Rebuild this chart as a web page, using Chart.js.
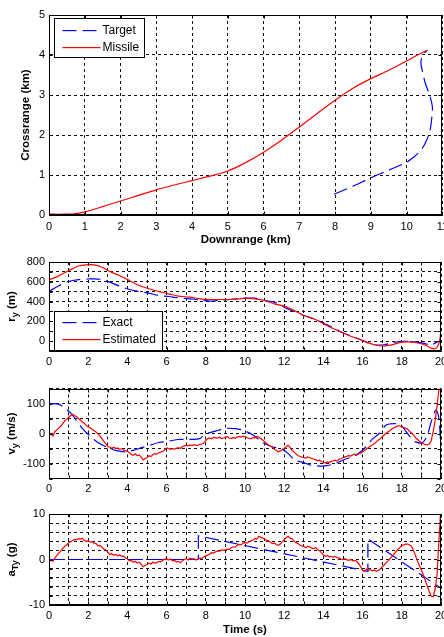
<!DOCTYPE html>
<html>
<head>
<meta charset="utf-8">
<title>Missile / target engagement</title>
<script src="https://cdn.jsdelivr.net/npm/chart.js@4.4.1/dist/chart.umd.min.js"></script>
<style>
  html, body { margin: 0; padding: 0; background: #fff; }
  #wrap { position: relative; width: 444px; height: 637px; overflow: hidden; }
  #wrap canvas { position: absolute; left: 0; }
</style>
</head>
<body>
<div id="wrap">
  <canvas id="trajChart" width="444" height="250" style="top:0px"></canvas>
  <canvas id="ryChart" width="444" height="120" style="top:250px"></canvas>
  <canvas id="vyChart" width="444" height="130" style="top:370px"></canvas>
  <canvas id="aChart" width="444" height="137" style="top:500px"></canvas>
</div>
<script>
// ---- trajectory (km) ----
var missileDown  = [0, 0.4, 0.7, 1.0, 1.5, 2.0, 2.5, 3.0, 3.5, 4.0, 4.5, 5.0, 5.5, 6.0, 6.5, 7.0, 7.5, 8.0, 8.5, 9.0, 9.5, 10.0, 10.3, 10.58];
var missileCross = [0.02, 0.02, 0.03, 0.08, 0.21, 0.35, 0.49, 0.63, 0.75, 0.86, 0.97, 1.1, 1.31, 1.57, 1.87, 2.2, 2.54, 2.87, 3.17, 3.41, 3.62, 3.85, 4.0, 4.12];
var targetDown   = [7.97, 8.5, 9.0, 9.5, 10.0, 10.2, 10.4, 10.55, 10.65, 10.7, 10.72, 10.64, 10.52, 10.44, 10.4, 10.44, 10.58];
var targetCross  = [0.52, 0.72, 0.93, 1.12, 1.32, 1.45, 1.62, 1.85, 2.1, 2.4, 2.7, 3.0, 3.3, 3.6, 3.8, 3.98, 4.12];
var downTicks  = [0, 1, 2, 3, 4, 5, 6, 7, 8, 9, 10, 11];
var crossTicks = [0, 1, 2, 3, 4, 5];

// ---- r_y (m) ----
var ryExactT = [0, 0.5, 1, 1.5, 2, 2.3, 2.7, 3.1, 3.6, 4.1, 4.6, 5.1, 5.6, 6.1, 6.6, 7.2, 7.7, 8.2, 8.7, 9.2, 10, 10.5, 11, 11.5, 12, 12.5, 13, 13.6, 14.1, 14.6, 15.1, 15.6, 16.1, 16.6, 17.1, 17.5, 18, 18.5, 19, 19.5, 19.8, 20];
var ryExact  = [502, 560, 603, 622, 628, 630, 623, 596, 556, 522, 502, 485, 461, 451, 438, 428, 418, 405, 414, 421, 434, 434, 411, 394, 343, 300, 259, 219, 172, 125, 74, 40, -3, -37, -37, -17, -3, -3, -17, -37, -10, 7];
var ryEstT = [0, 0.5, 1, 1.5, 1.9, 2.3, 2.7, 3.1, 3.6, 4.1, 4.6, 5.1, 5.6, 6.1, 6.6, 7.2, 7.7, 8.2, 8.7, 9.2, 9.7, 10, 10.5, 11, 11.5, 12, 12.5, 13, 13.6, 14.1, 14.6, 15.1, 15.6, 16.1, 16.6, 17.1, 17.5, 18, 18.5, 19, 19.3, 19.5, 19.7, 19.85, 19.95, 20];
var ryEst  = [620, 660, 712, 760, 771, 771, 747, 704, 663, 613, 562, 529, 502, 478, 455, 444, 428, 421, 421, 421, 428, 434, 428, 411, 377, 354, 310, 259, 219, 165, 118, 74, 34, -3, -37, -50, -37, -10, -10, -27, -50, -71, -77, -44, 24, 141];
var ryTicks = [0, 200, 400, 600, 800];

// ---- v_y (m/s) ----
var vyExactT = [0, 0.48, 0.85, 1.2, 1.7, 2.05, 2.5, 2.9, 3.38, 3.9, 4.3, 4.7, 5.16, 5.6, 6.1, 6.6, 7.1, 7.7, 7.95, 8.5, 9.0, 9.5, 9.9, 10.43, 10.85, 11.37, 11.9, 12.2, 12.56, 13.0, 13.4, 14.1, 14.6, 15.1, 15.6, 16.0, 16.5, 16.84, 17.2, 17.6, 17.95, 18.2, 18.46, 18.7, 19.06, 19.3, 19.5, 19.74, 19.88, 19.96, 20];
var vyExact  = [100, 98, 83, 61, 17, -6, -30, -44, -56, -61, -56, -48, -39, -30, -26, -20, -20, -17, -3, 8, 17, 16, 11, -6, -28, -44, -52, -67, -89, -97, -106, -108, -100, -86, -74, -56, -19, 0, 28, 33, 28, 8, -14, -28, -30, -6, 39, 78, 56, -6, -67];
// estimate sampled every 0.1 s, one row per second
var vyEst = [
  3, -2, -8, 6, 12, 18, 24, 33, 42, 47,
  54, 59, 64, 60, 57, 50, 45, 38, 34, 27,
  22, 19, 14, 9, 5, -1, -9, -17, -26, -35,
  -44, -45, -49, -46, -50, -48, -53, -51, -55, -57,
  -60, -63, -70, -73, -68, -74, -72, -78, -88, -84,
  -80, -74, -77, -70, -67, -69, -64, -62, -60, -55,
  -48, -50, -53, -51, -52, -49, -47, -50, -44, -42,
  -39, -41, -38, -40, -37, -40, -39, -36, -35, -32,
  -24, -17, -15, -18, -13, -14, -16, -12, -17, -15,
  -14, -11, -15, -17, -13, -16, -12, -10, -12, -9,
  -11, -14, -16, -18, -13, -15, -10, -12, -17, -22,
  -27, -33, -38, -42, -46, -53, -57, -61, -58, -54,
  -50, -44, -39, -46, -56, -62, -68, -74, -76, -79,
  -80, -82, -78, -81, -83, -85, -88, -91, -89, -94,
  -96, -98, -95, -97, -93, -91, -89, -92, -86, -84,
  -81, -78, -76, -74, -75, -71, -69, -72, -67, -66,
  -62, -57, -51, -47, -42, -38, -33, -28, -22, -18,
  -11, -5, 1, 6, 10, 16, 19, 22, 26, 25,
  22, 20, 18, 14, 7, 1, -6, -14, -20, -26,
  -31, -34, -37, -38, -35, -24, 6, 42, 92, 150,
  210
];
var vyTicks = [-100, 0, 100];

// ---- a_Ty (g) ----
var aExactT = [0, 7.62, 7.62, 16.27, 16.27, 20];
var aExact  = [0, 0, 5.2, -2.6, 4.5, -6.3];
var aEst = [
  0, -0.2, -0.4, 0.3, 0.9, 1.4, 1.9, 2.4, 2.9, 3.2,
  3.7, 3.9, 4.1, 4.4, 4.3, 4.6, 4.5, 4.7, 4.2, 4.0,
  4.1, 3.8, 3.9, 3.6, 3.5, 3.0, 3.1, 2.7, 2.3, 2.1,
  1.6, 1.1, 1.3, 0.9, 1.1, 0.8, 1.0, 0.7, 0.8, 0.4,
  0.1, -0.3, -0.2, -0.6, -0.4, -0.8, -0.6, -1.0, -1.6, -1.3,
  -1.1, -0.8, -1.0, -0.6, -0.8, -0.7, -0.4, -0.5, -0.2, 0.1,
  0.2, -0.1, 0.1, -0.3, -0.2, -0.5, -0.4, -0.7, -0.3, 0.0,
  0.2, -0.1, 0.3, 0.1, 0.2, -0.1, 0.1, 0.3, 0.2, 0.6,
  0.8, 1.0, 1.2, 1.5, 1.4, 1.7, 1.9, 1.8, 2.1, 2.0,
  2.1, 2.3, 2.2, 2.6, 2.8, 2.7, 3.1, 3.3, 3.2, 3.6,
  3.7, 3.6, 3.9, 4.1, 4.3, 4.6, 4.5, 5.1, 4.9, 4.7,
  4.5, 4.2, 4.1, 3.8, 3.5, 3.6, 3.3, 3.1, 3.4, 3.9,
  4.3, 4.8, 5.1, 4.7, 4.6, 4.0, 3.7, 3.5, 3.2, 3.0,
  2.9, 2.6, 2.9, 2.8, 2.5, 2.4, 2.6, 2.2, 1.9, 1.5,
  1.0, 0.7, 0.9, 0.6, 0.7, 0.5, 0.7, 0.4, 0.3, 0.1,
  0.0, 0.2, -0.1, -0.2, 0.0, -0.3, -0.2, -0.4, -0.9, -1.6,
  -2.3, -2.6, -2.1, -2.4, -2.2, -2.5, -2.3, -2.6, -2.4, -2.1,
  -1.6, -1.2, -0.7, -0.3, 0.2, 0.7, 1.2, 1.7, 2.2, 2.6,
  3.1, 3.2, 3.4, 3.4, 3.2, 2.9, 2.0, 0.8, -0.3, -1.4,
  -2.3, -3.4, -4.6, -5.8, -7.1, -8.1, -8.2, -6.6, -3.2, 4.5,
  12
];
var aTicks = [-10, 0, 10];

var timeTicks = [0, 2, 4, 6, 8, 10, 12, 14, 16, 18, 20];
var sampleStep = 0.1;

(function() {
    'use strict';

    var RED = '#ff0000';
    var BLUE = '#0000ff';
    var FONT = "'Liberation Sans', Arial, Helvetica, sans-serif";
    var gridDash = [3, 3];

    Chart.defaults.font.family = FONT;
    Chart.defaults.font.size = 11;
    Chart.defaults.color = '#000';

    function toPoints(xs, ys) {
        return xs.map(function(x, i) { return { x: x, y: ys[i] }; });
    }

    function sampled(values) {
        return values.map(function(v, i) { return { x: Math.round(i * sampleStep * 100) / 100, y: v }; });
    }

    function lineSet(label, points, color, dashed, order, tension) {
        return {
            label: label,
            data: points,
            showLine: true,
            borderColor: color,
            backgroundColor: color,
            borderWidth: 1.2,
            borderDash: dashed ? [14, 6] : [],
            pointRadius: 0,
            pointHoverRadius: 0,
            tension: tension,
            order: order,
            fill: false
        };
    }

    function makeAxis(cfg) {
        return {
            type: 'linear',
            position: cfg.position,
            min: cfg.min,
            max: cfg.max,
            ticks: {
                stepSize: cfg.step,
                autoSkip: false,
                maxRotation: 0,
                minRotation: 0,
                padding: cfg.pad,
                font: { size: 11 },
                color: '#000',
                callback: function(v) { return cfg.labels.indexOf(v) >= 0 ? String(v) : ''; }
            },
            grid: { color: '#111', lineWidth: 1, drawTicks: false },
            border: { display: true, color: '#000', width: 1, dash: gridDash },
            title: cfg.title ? {
                display: true,
                text: cfg.title,
                color: '#000',
                font: { size: 11.5, weight: 'bold' },
                padding: cfg.titlePad
            } : { display: false },
            afterFit: function(scale) {
                if (cfg.position === 'bottom') scale.height = cfg.size;
                else scale.width = cfg.size;
                scale.paddingLeft = 0;
                scale.paddingRight = 0;
                scale.paddingTop = 0;
                scale.paddingBottom = 0;
            }
        };
    }

    // closed axes box with small inward tick marks, like the original plot
    var axesBox = {
        id: 'axesBox',
        afterDatasetsDraw: function(chart) {
            var ctx = chart.ctx;
            var a = chart.chartArea;
            var xs = chart.scales.x, ys = chart.scales.y;
            var l = Math.round(a.left) + 0.5, r = Math.round(a.right) - 0.5;
            var t = Math.round(a.top) + 0.5, b = Math.round(a.bottom) - 0.5;
            ctx.save();
            ctx.strokeStyle = '#000';
            ctx.lineWidth = 1;
            ctx.setLineDash([]);
            ctx.strokeRect(l, t, r - l, b - t);
            ctx.beginPath();
            xs.ticks.forEach(function(tk) {
                var px = Math.round(xs.getPixelForValue(tk.value)) + 0.5;
                ctx.moveTo(px, b); ctx.lineTo(px, b - 3);
                ctx.moveTo(px, t); ctx.lineTo(px, t + 3);
            });
            ys.ticks.forEach(function(tk) {
                var py = Math.round(ys.getPixelForValue(tk.value)) + 0.5;
                ctx.moveTo(l, py); ctx.lineTo(l + 3, py);
                ctx.moveTo(r, py); ctx.lineTo(r - 3, py);
            });
            ctx.stroke();
            ctx.restore();
        }
    };

    // legend box drawn inside the plot area
    var boxLegend = {
        id: 'boxLegend',
        afterDraw: function(chart, args, opts) {
            if (!opts || !opts.width) return;
            var ctx = chart.ctx;
            var a = chart.chartArea;
            var left = Math.round(a.left + opts.left) + 0.5;
            var top = opts.fromBottom ? Math.round(a.bottom - opts.fromBottom - opts.height) + 0.5 : Math.round(a.top + opts.top) + 0.5;
            ctx.save();
            ctx.fillStyle = '#fff';
            ctx.fillRect(left, top, opts.width, opts.height);
            ctx.strokeStyle = '#000';
            ctx.lineWidth = 1;
            ctx.setLineDash([]);
            ctx.strokeRect(left, top, opts.width, opts.height);
            ctx.font = '12px ' + FONT;
            ctx.textBaseline = 'middle';
            ctx.textAlign = 'left';
            chart.data.datasets.forEach(function(ds, i) {
                var y = Math.round(top + opts.rowTop + i * opts.rowGap);
                var dash = ds.borderDash && ds.borderDash.length ? ds.borderDash : null;
                ctx.fillStyle = ds.borderColor;
                if (dash) {
                    var x = left + 8;
                    while (x < left + 46) {
                        ctx.fillRect(x, y, Math.min(dash[0], left + 46 - x), 1.2);
                        x += dash[0] + dash[1];
                    }
                } else {
                    ctx.fillRect(left + 8, y, 38, 1.2);
                }
                ctx.fillStyle = '#000';
                ctx.fillText(ds.label, left + 48, y + 0.5);
            });
            ctx.restore();
        }
    };

    // rotated y-axis title with a subscript
    var subTitle = {
        id: 'subTitle',
        afterDraw: function(chart, args, opts) {
            if (!opts || !opts.main) return;
            var ctx = chart.ctx;
            var a = chart.chartArea;
            var mainFont = 'bold 11.5px ' + FONT;
            var subFont = 'bold 9px ' + FONT;
            ctx.save();
            ctx.fillStyle = '#000';
            ctx.textBaseline = 'middle';
            ctx.textAlign = 'left';
            ctx.font = mainFont;
            var w1 = ctx.measureText(opts.main).width;
            var w3 = ctx.measureText(opts.rest).width;
            ctx.font = subFont;
            var w2 = ctx.measureText(opts.sub).width;
            var total = w1 + w2 + w3;
            ctx.translate(opts.x, (a.top + a.bottom) / 2);
            ctx.rotate(-Math.PI / 2);
            var pos = -total / 2;
            ctx.font = mainFont;
            ctx.fillText(opts.main, pos, 0);
            ctx.font = subFont;
            ctx.fillText(opts.sub, pos + w1, 4);
            ctx.font = mainFont;
            ctx.fillText(opts.rest, pos + w1 + w2, 0);
            ctx.restore();
        }
    };

    function baseOptions(padding, extraPlugins, xAxis, yAxis) {
        var plugins = { legend: { display: false }, tooltip: { enabled: false } };
        Object.keys(extraPlugins).forEach(function(k) { plugins[k] = extraPlugins[k]; });
        return {
            responsive: false,
            animation: false,
            events: [],
            layout: { padding: padding },
            plugins: plugins,
            scales: { x: xAxis, y: yAxis }
        };
    }

    function timeAxis(height, title) {
        return makeAxis({
            position: 'bottom', min: 0, max: 20, step: 1, labels: timeTicks, pad: 4,
            size: height, title: title, titlePad: { top: 0, bottom: 0 }
        });
    }

    function renderTrajectory() {
        new Chart(document.getElementById('trajChart'), {
            type: 'scatter',
            data: {
                datasets: [
                    lineSet('Target', toPoints(targetDown, targetCross), BLUE, true, 1, 0.3),
                    lineSet('Missile', toPoints(missileDown, missileCross), RED, false, 0, 0.3)
                ]
            },
            options: baseOptions(
                { top: 15, right: 1.6, bottom: 0, left: 0 },
                { boxLegend: { left: 5, top: 3, width: 90, height: 39, rowTop: 11.5, rowGap: 17 } },
                makeAxis({ position: 'bottom', min: 0, max: 11, step: 1, labels: downTicks, pad: 5, size: 35,
                    title: 'Downrange (km)', titlePad: { top: 0, bottom: 3 } }),
                makeAxis({ position: 'left', min: 0, max: 5, step: 1, labels: crossTicks, pad: 4, size: 49,
                    title: 'Crossrange (km)', titlePad: { top: 19, bottom: 0 } })
            ),
            plugins: [axesBox, boxLegend]
        });
    }

    function renderRy() {
        new Chart(document.getElementById('ryChart'), {
            type: 'scatter',
            data: {
                datasets: [
                    lineSet('Exact', toPoints(ryExactT, ryExact), BLUE, true, 1, 0.3),
                    lineSet('Estimated', toPoints(ryEstT, ryEst), RED, false, 0, 0.3)
                ]
            },
            options: baseOptions(
                { top: 12, right: 3, bottom: 0, left: 0 },
                {
                    boxLegend: { left: 5, fromBottom: 1, width: 108, height: 39, rowTop: 10.5, rowGap: 17 },
                    subTitle: { x: 12, main: 'r', sub: 'y', rest: ' (m)' }
                },
                timeAxis(19, null),
                makeAxis({ position: 'left', min: -100, max: 800, step: 100, labels: ryTicks, pad: 4, size: 49 })
            ),
            plugins: [axesBox, boxLegend, subTitle]
        });
    }

    function renderVy() {
        new Chart(document.getElementById('vyChart'), {
            type: 'scatter',
            data: {
                datasets: [
                    lineSet('Exact', toPoints(vyExactT, vyExact), BLUE, true, 1, 0.3),
                    lineSet('Estimated', sampled(vyEst), RED, false, 0, 0)
                ]
            },
            options: baseOptions(
                { top: 18.5, right: 3, bottom: 0, left: 0 },
                { subTitle: { x: 12, main: 'v', sub: 'y', rest: ' (m/s)' } },
                timeAxis(21.5, null),
                makeAxis({ position: 'left', min: -150, max: 150, step: 50, labels: vyTicks, pad: 4, size: 49 })
            ),
            plugins: [axesBox, subTitle]
        });
    }

    function renderAy() {
        new Chart(document.getElementById('aChart'), {
            type: 'scatter',
            data: {
                datasets: [
                    lineSet('Exact', toPoints(aExactT, aExact), BLUE, true, 1, 0),
                    lineSet('Estimated', sampled(aEst), RED, false, 0, 0)
                ]
            },
            options: baseOptions(
                { top: 14, right: 3, bottom: 0, left: 0 },
                { subTitle: { x: 12, main: 'a', sub: 'Ty', rest: ' (g)' } },
                timeAxis(32, 'Time (s)'),
                makeAxis({ position: 'left', min: -10, max: 10, step: 2, labels: aTicks, pad: 4, size: 49 })
            ),
            plugins: [axesBox, subTitle]
        });
    }

    renderTrajectory();
    renderRy();
    renderVy();
    renderAy();
})();
</script>
</body>
</html>
